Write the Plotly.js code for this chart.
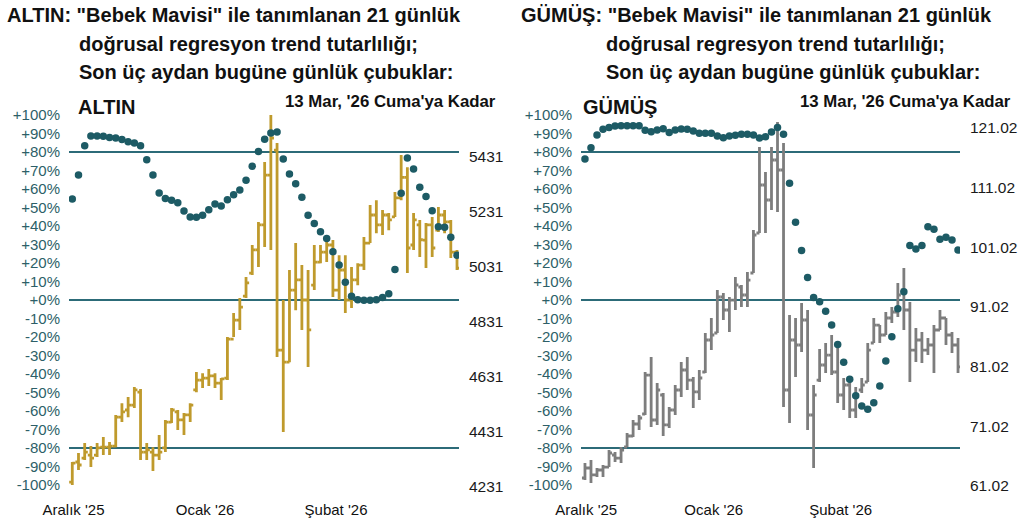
<!DOCTYPE html>
<html>
<head>
<meta charset="utf-8">
<script src="https://cdn.plot.ly/plotly-3.0.1.min.js"></script>
<style>
  html, body { margin: 0; padding: 0; background: #fff; }
  #chart { width: 1024px; height: 529px; }
</style>
</head>
<body>
<div id="chart"></div>
<script>
// Tick labels
const dateTickPos = [0.2, 21.4, 42.5];
const dateTickText = ["Aralık '25", "Ocak '26", "Şubat '26"];
const pctTickVals = [100, 90, 80, 70, 60, 50, 40, 30, 20, 10, 0, -10, -20, -30, -40, -50, -60, -70, -80, -90, -100];
const pctTickText = ["+100%", "+90%", "+80%", "+70%", "+60%", "+50%", "+40%", "+30%", "+20%", "+10%", "+0%",
  "-10%", "-20%", "-30%", "-40%", "-50%", "-60%", "-70%", "-80%", "-90%", "-100%"];
const bandLevels = [80, 0, -80];

const goldPriceTicks = [4231, 4431, 4631, 4831, 5031, 5231, 5431];
const goldPriceText = ["4231", "4431", "4631", "4831", "5031", "5231", "5431"];
const silverPriceTicks = [61.02, 71.02, 81.02, 91.02, 101.02, 111.02, 121.02];
const silverPriceText = ["61.02", "71.02", "81.02", "91.02", "101.02", "111.02", "121.02"];

// ALTIN - daily bars
const goldOpen  = [4249,4322,4336,4347,4347,4376,4376,4380,4485,4511,4529,4576,4358,4358,4347,4373,4467,4504,4475,4493,
                   4584,4620,4627,4635,4609,4627,4769,4838,4925,5009,5093,5184,5365,5456,4729,4685,4947,4984,4911,4965,
                   5049,5085,5111,4947,5020,4911,4984,5038,5118,5220,5184,5220,5213,5282,5357,5111,5184,5129,5184,5165,
                   5220,5195,5085];
const goldHigh  = [4322,4355,4391,4380,4391,4413,4395,4493,4536,4558,4595,4587,4391,4376,4420,4475,4518,4511,4500,4536,
                   4649,4645,4660,4645,4627,4776,4864,4918,4995,5111,5195,5413,5584,5482,4911,5020,5118,5038,5020,5111,
                   5111,5129,5129,5074,5074,5031,5045,5140,5256,5274,5238,5227,5304,5438,5394,5227,5202,5191,5213,5249,
                   5238,5202,5093];
const goldLow   = [4238,4293,4329,4304,4340,4347,4347,4376,4467,4485,4518,4329,4329,4289,4329,4358,4464,4438,4420,4467,
                   4576,4591,4598,4591,4547,4620,4776,4802,4918,5002,5031,5104,5093,4704,4431,4685,4874,4802,4667,4947,
                   5045,5049,4922,4911,4864,4882,4965,5020,5118,5154,5147,5165,5213,5274,5009,5093,5067,5027,5067,5158,
                   5154,5064,5020];
const goldClose = [4318,4311,4358,4336,4373,4376,4380,4485,4504,4529,4584,4358,4366,4347,4358,4467,4511,4475,4493,4529,
                   4620,4627,4635,4609,4624,4769,4838,4885,4973,5093,5184,5365,5500,4729,4685,4947,4984,4911,4802,5049,
                   5085,5111,4947,5020,4911,4984,5038,5118,5220,5184,5220,5202,5282,5357,5100,5202,5130,5184,5100,5220,
                   5195,5085,5027];
// ALTIN - 21-day linear regression trend consistency (%)
const goldTrend = [54.6,67.6,83.4,88.6,88.6,88.5,87.9,87.5,86.8,85.6,84.9,83.4,75.8,67.6,57.8,54.8,53.9,52.6,48.1,44.9,
                   44.7,45.8,48.8,51.9,50.8,54.2,56.9,59.5,64.7,72.3,80.3,86.9,90.3,90.8,76.2,68.1,62.9,55.5,45.8,41.3,
                   36.9,33.2,26.1,18.9,9.6,2.0,0.1,-0.2,-0.2,0.2,1.3,3.4,16.5,57.7,76.7,70.8,60.9,55.9,48.3,39.6,
                   39.3,33.9,24.2];

// GÜMÜŞ - daily bars
const silverOpen  = [62.36,64.04,62.87,63.70,64.20,66.22,65.71,67.56,69.40,71.41,73.09,79.62,72.08,76.27,71.25,73.76,77.11,80.46,78.78,76.78,
                     80.13,85.49,86.66,92.70,90.52,92.19,94.37,93.03,96.72,103.42,111.47,108.95,115.66,113.98,77.11,85.49,84.65,88.84,72.92,78.78,
                     81.30,82.97,80.13,76.27,77.95,73.76,77.11,78.45,84.99,87.99,86.33,89.18,90.18,93.87,90.52,83.81,85.49,83.81,84.65,87.17,
                     89.18,86.33,84.65];
const silverHigh  = [64.88,65.38,64.04,64.54,67.05,66.72,67.56,69.90,72.08,72.92,80.13,82.64,78.28,76.61,74.26,77.95,81.80,82.64,79.29,80.46,
                     86.66,89.18,93.87,93.37,92.70,96.05,94.71,96.89,103.92,117.83,113.65,117.83,122.02,118.50,89.68,89.18,91.69,90.52,77.95,83.98,
                     84.99,86.33,84.15,79.12,78.45,77.61,79.12,84.99,89.18,87.99,90.18,91.02,95.04,97.56,91.86,87.50,86.83,85.82,87.99,90.52,
                     89.18,86.83,85.82];
const silverLow   = [62.03,61.52,62.53,62.53,64.20,65.05,64.88,67.56,69.23,70.41,72.92,70.91,71.25,69.40,70.74,72.92,75.94,77.11,74.09,75.43,
                     79.96,83.81,86.66,88.84,86.83,90.52,91.02,91.02,96.72,103.42,103.42,107.28,106.94,74.26,71.58,79.29,83.48,70.41,64.04,78.45,
                     79.96,79.62,74.93,73.76,72.42,72.42,76.61,78.45,84.99,84.99,86.33,88.34,89.34,87.17,78.45,81.80,81.63,82.97,79.96,87.17,
                     84.65,83.31,79.96];
const silverClose = [64.04,62.87,63.70,64.20,66.55,65.71,67.05,69.40,71.41,72.42,79.62,72.08,77.11,71.25,73.76,77.11,80.46,78.78,76.78,79.12,
                     85.49,86.33,92.70,90.52,92.19,94.71,93.03,95.54,103.09,111.47,108.95,115.66,113.98,77.11,85.49,84.65,88.84,72.92,76.27,81.30,
                     82.97,80.13,76.27,77.95,73.76,76.27,77.95,83.81,87.99,86.33,89.18,90.18,93.03,90.52,83.81,85.49,83.81,84.65,87.17,89.18,
                     86.33,84.65,80.97];
// GÜMÜŞ - 21-day linear regression trend consistency (%)
const silverTrend = [76.2,82.3,89.2,92.3,93.3,94.1,94.2,94.2,94.2,94.2,91.7,91.0,91.9,92.6,90.5,91.9,92.4,92.3,91.4,90.1,
                     90.1,90.1,88.6,87.7,88.6,89.0,89.6,89.6,89.2,87.6,88.3,90.8,93.3,89.6,63.1,42.0,26.7,12.1,1.4,-0.9,
                     -6.1,-13.5,-24.0,-33.7,-42.9,-51.7,-57.3,-59.1,-55.5,-46.5,-33.0,-19.8,-4.7,4.5,29.4,27.6,29.4,39.6,38.2,32.8,
                     33.9,32.4,27.0];

const FONT = 'Liberation Sans, Arial, sans-serif';
const TEAL_DOT = '#1d5b65';
const TEAL_LINE = '#2c6b78';
const PCT_COLOR = '#2d5f68';
const GOLD = '#bf9a2c';
const SILVER = '#7d7d7d';

const goldX = goldClose.map((_, i) => i);
const silverX = silverClose.map((_, i) => i);

const traces = [
  {
    type: 'ohlc', x: goldX, open: goldOpen, high: goldHigh, low: goldLow, close: goldClose,
    xaxis: 'x', yaxis: 'y', tickwidth: 0.5, hoverinfo: 'skip',
    increasing: { line: { color: GOLD, width: 2.8 } },
    decreasing: { line: { color: GOLD, width: 2.8 } }
  },
  {
    type: 'scatter', mode: 'markers', x: goldX, y: goldTrend, xaxis: 'x', yaxis: 'y2',
    marker: { size: 7.5, color: TEAL_DOT }, hoverinfo: 'skip'
  },
  {
    type: 'ohlc', x: silverX, open: silverOpen, high: silverHigh, low: silverLow, close: silverClose,
    xaxis: 'x2', yaxis: 'y3', tickwidth: 0.5, hoverinfo: 'skip',
    increasing: { line: { color: SILVER, width: 2.8 } },
    decreasing: { line: { color: SILVER, width: 2.8 } }
  },
  {
    type: 'scatter', mode: 'markers', x: silverX, y: silverTrend, xaxis: 'x2', yaxis: 'y4',
    marker: { size: 7.5, color: TEAL_DOT }, hoverinfo: 'skip'
  }
];

const yDomain = [0.0692, 0.7966];

const xCommon = {
  showgrid: false, zeroline: false, showline: false, ticks: '',
  tickmode: 'array', tickvals: dateTickPos, ticktext: dateTickText,
  tickfont: { family: FONT, size: 15, color: '#111' },
  rangeslider: { visible: false }, ticklabelstandoff: 7, fixedrange: true
};
const pctAxis = {
  side: 'left', showgrid: false, zeroline: false, showline: false, ticks: '',
  range: [-104, 104], tickmode: 'array', tickvals: pctTickVals, ticktext: pctTickText,
  tickfont: { family: FONT, size: 15, color: PCT_COLOR }, ticklabelstandoff: 8
};
const priceAxis = {
  side: 'right', showgrid: false, zeroline: false, showline: false, ticks: '',
  tickmode: 'array', tickfont: { family: FONT, size: 15.5, color: '#1a1a1a' }, ticklabelstandoff: 9
};

const shapes = [];
bandLevels.forEach(v => {
  shapes.push({ type: 'line', xref: 'x domain', yref: 'y2', x0: 0, x1: 1, y0: v, y1: v,
    line: { color: TEAL_LINE, width: 2 }, layer: 'below' });
  shapes.push({ type: 'line', xref: 'x2 domain', yref: 'y4', x0: 0, x1: 1, y0: v, y1: v,
    line: { color: TEAL_LINE, width: 2 }, layer: 'below' });
});

function txt(x, y, text, size, anchor) {
  return { xref: 'paper', yref: 'paper', x: x / 1024, y: 1 - y / 529, text: text,
    showarrow: false, xanchor: anchor || 'left', yanchor: 'middle',
    font: { family: FONT, size: size, color: '#111', weight: 'bold' } };
}

const annotations = [
  txt(5, 15, 'ALTIN: "Bebek Mavisi" ile tanımlanan 21 günlük', 20),
  txt(77, 44, 'doğrusal regresyon trend tutarlılığı;', 20),
  txt(77, 72, 'Son üç aydan bugüne günlük çubuklar:', 20),
  txt(519, 15, 'GÜMÜŞ: "Bebek Mavisi" ile tanımlanan 21 günlük', 20),
  txt(604, 44, 'doğrusal regresyon trend tutarlılığı;', 20),
  txt(604, 72, 'Son üç aydan bugüne günlük çubuklar:', 20),
  txt(76, 107, 'ALTIN', 20),
  txt(581, 107, 'GÜMÜŞ', 20),
  txt(498, 101, "13 Mar, '26 Cuma'ya Kadar", 16.8, 'right'),
  txt(1013, 101, "13 Mar, '26 Cuma'ya Kadar", 16.8, 'right')
];

const layout = {
  width: 1024, height: 529,
  margin: { l: 0, r: 0, t: 0, b: 0, autoexpand: false },
  paper_bgcolor: '#fff', plot_bgcolor: 'rgba(0,0,0,0)',
  showlegend: false,
  xaxis: Object.assign({}, xCommon, { domain: [0.06738, 0.44824], range: [-0.53, 62.32], anchor: 'y' }),
  xaxis2: Object.assign({}, xCommon, { domain: [0.56738, 0.9375], range: [-0.66, 62.33], anchor: 'y3' }),
  yaxis: Object.assign({}, priceAxis, { domain: yDomain, anchor: 'x', range: [4211.4, 5610.6],
    tickvals: goldPriceTicks, ticktext: goldPriceText }),
  yaxis2: Object.assign({}, pctAxis, { overlaying: 'y', anchor: 'x' }),
  yaxis3: Object.assign({}, priceAxis, { domain: yDomain, anchor: 'x2', range: [59.95, 124.44],
    tickvals: silverPriceTicks, ticktext: silverPriceText }),
  yaxis4: Object.assign({}, pctAxis, { overlaying: 'y3', anchor: 'x2' }),
  shapes: shapes,
  annotations: annotations
};

Plotly.newPlot('chart', traces, layout, { displayModeBar: false, staticPlot: true });
</script>
</body>
</html>
